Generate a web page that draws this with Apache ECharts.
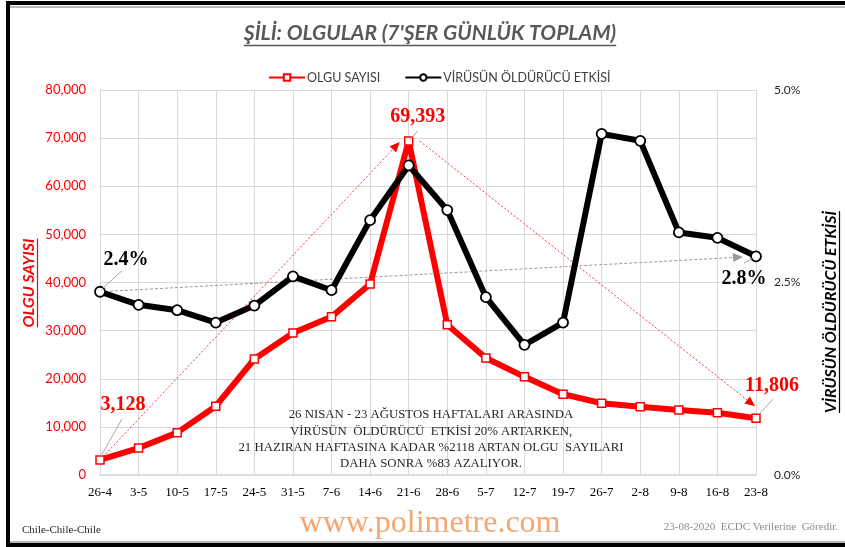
<!DOCTYPE html>
<html>
<head>
<meta charset="utf-8">
<script src="https://cdn.jsdelivr.net/npm/echarts@6/dist/echarts.min.js"></script>
<style>html,body{margin:0;padding:0;background:#fff;}#c{width:845px;height:547px;}</style>
</head>
<body>
<div id="c"></div>
<script>
var categories = ['26-4','3-5','10-5','17-5','24-5','31-5','7-6','14-6','21-6','28-6','5-7','12-7','19-7','26-7','2-8','9-8','16-8','23-8'];
var cases = [3128, 5600, 8800, 14300, 24100, 29500, 32900, 39700, 69393, 31200, 24300, 20400, 16800, 14900, 14200, 13500, 12950, 11806];
var lethality = [2.38, 2.21, 2.14, 1.98, 2.20, 2.58, 2.40, 3.31, 4.02, 3.44, 2.31, 1.69, 1.98, 4.43, 4.34, 3.15, 3.08, 2.84];
var leftTicks = [0, 80000, 10000];
var rightTicks = [0, 5, 2.5];
var titleText = "ŞİLİ: OLGULAR (7'ŞER GÜNLÜK TOPLAM)";
var seriesNames = ['OLGU SAYISI', 'VİRÜSÜN ÖLDÜRÜCÜ ETKİSİ'];
var leftAxisName = 'OLGU SAYISI';
var rightAxisName = 'VİRÜSÜN ÖLDÜRÜCÜ ETKİSİ';
var noteLines = ['26 NISAN - 23 AĞUSTOS HAFTALARI ARASINDA', 'VİRÜSÜN  ÖLDÜRÜCÜ  ETKİSİ 20% ARTARKEN,', '21 HAZIRAN HAFTASINA KADAR %2118 ARTAN OLGU  SAYILARI', 'DAHA SONRA %83 AZALIYOR.'];
var footLeft = 'Chile-Chile-Chile';
var footMid = 'www.polimetre.com';
var footRight = '23-08-2020  ECDC Verilerine  Göredir.';

var chart = echarts.init(document.getElementById('c'), null, {renderer: 'canvas'});

function fmtNum(v){ return v.toString().replace(/\B(?=(\d{3})+(?!\d))/g, ','); }
function measure(text, font){
  var cv = document.createElement('canvas').getContext('2d');
  cv.font = font; return cv.measureText(text).width;
}

var option = {
  animation: false,
  backgroundColor: '#fff',
  grid: {left: 100, right: 89, top: 90, bottom: 72, containLabel: false},
  legend: {
    top: 66, left: 263, itemWidth: 36, itemHeight: 8, itemGap: 24,
    textStyle: {fontFamily: 'Lato', fontSize: 12.5, color: '#404040', padding: [0,0,0,-3]},
    data: seriesNames
  },
  xAxis: {
    type: 'category', data: categories, boundaryGap: false,
    axisLine: {lineStyle: {color: '#d9d9d9', width: 1.5}},
    axisTick: {show: false},
    axisLabel: {color: '#000', fontFamily: 'Liberation Serif', fontSize: 13, margin: 11},
    splitLine: {show: true, lineStyle: {color: '#d9d9d9', width: 1}}
  },
  yAxis: [{
    type: 'value', min: leftTicks[0], max: leftTicks[1], interval: leftTicks[2],
    axisLine: {show: false}, axisTick: {show: false},
    axisLabel: {color: '#FF0000', fontFamily: 'Lato', fontSize: 13, margin: 14, formatter: function(v){return fmtNum(v);}},
    splitLine: {show: true, lineStyle: {color: '#d9d9d9', width: 1}}
  }, {
    type: 'value', min: rightTicks[0], max: rightTicks[1], interval: rightTicks[2],
    axisLine: {show: false}, axisTick: {show: false},
    axisLabel: {color: '#262626', fontFamily: 'Lato', fontSize: 12, margin: 18, formatter: function(v){return v.toFixed(1) + '%';}},
    splitLine: {show: false}
  }],
  series: [{
    name: seriesNames[0], type: 'line', data: cases, yAxisIndex: 0,
    symbol: 'rect', symbolSize: 8, showAllSymbol: true, z: 3,
    lineStyle: {color: '#FF0000', width: 6},
    itemStyle: {color: '#fff', borderColor: '#FF0000', borderWidth: 1.5}
  }, {
    name: seriesNames[1], type: 'line', data: lethality, yAxisIndex: 1,
    symbol: 'circle', symbolSize: 10, showAllSymbol: true, z: 4,
    lineStyle: {color: '#000', width: 6},
    itemStyle: {color: '#fff', borderColor: '#000', borderWidth: 1.8}
  }]
};
chart.setOption(option);

function px(axisIdx, i, v){ return chart.convertToPixel({xAxisIndex: 0, yAxisIndex: axisIdx}, [i, v]); }
function shorten(a, b, d){
  var dx = b[0]-a[0], dy = b[1]-a[1], L = Math.sqrt(dx*dx+dy*dy);
  return [b[0]-dx/L*d, b[1]-dy/L*d];
}
function arrow(a, tip, color, dash, lw){
  var dx = tip[0]-a[0], dy = tip[1]-a[1], L = Math.sqrt(dx*dx+dy*dy);
  var ux = dx/L, uy = dy/L, hl = 10, hw = 4.5;
  var base = [tip[0]-ux*hl, tip[1]-uy*hl];
  return [{
    type: 'line', z: 1, shape: {x1: a[0], y1: a[1], x2: base[0], y2: base[1]},
    style: {stroke: color, lineWidth: lw, lineDash: dash}
  }, {
    type: 'polygon', z: 1, shape: {points: [tip, [base[0]-uy*hw, base[1]+ux*hw], [base[0]+uy*hw, base[1]-ux*hw]]},
    style: {fill: color}
  }];
}
function txt(x, y, text, font, color, align, extra){
  var o = {type: 'text', x: x, y: y, z: 100, style: {text: text, font: font, fill: color, align: align || 'center', verticalAlign: 'middle'}};
  if (extra) for (var k in extra) o[k] = extra[k];
  return o;
}
function lead(a, b){
  return {type: 'line', z: 5, shape: {x1: a[0], y1: a[1], x2: b[0], y2: b[1]}, style: {stroke: '#a6a6a6', lineWidth: 1}};
}

var last = categories.length - 1;
var peak = cases.indexOf(Math.max.apply(null, cases));
var r0 = px(0, 0, cases[0]), rP = px(0, peak, cases[peak]), rL = px(0, last, cases[last]);
var b0 = px(1, 0, lethality[0]), bL = px(1, last, lethality[last]);

var g = [];
// frame
g.push({type: 'rect', z: 0, shape: {x: 8, y: 3, width: 860, height: 542}, style: {fill: null, stroke: '#000', lineWidth: 4}});
g.push({type: 'line', z: 0, shape: {x1: 10, y1: 7, x2: 845, y2: 7}, style: {stroke: '#a0a0a0', lineWidth: 1.5}});
g.push({type: 'line', z: 0, shape: {x1: 10, y1: 542, x2: 845, y2: 542}, style: {stroke: '#a0a0a0', lineWidth: 1.5}});

// title
var tFont = 'italic bold 21px Lato';
var tw = measure(titleText, tFont);
g.push(txt(430, 33, titleText, tFont, '#595959'));
g.push({type: 'line', z: 100, shape: {x1: 430 - tw/2, y1: 45.5, x2: 430 + tw/2, y2: 45.5}, style: {stroke: '#595959', lineWidth: 1.5}});

// axis names
var aFont = 'italic bold 16px Lato';
var lw1 = measure(leftAxisName, aFont);
g.push(txt(29, 283, leftAxisName, aFont, '#FF0000', 'center', {rotation: Math.PI/2}));
g.push({type: 'line', z: 100, shape: {x1: 37.5, y1: 283 - lw1/2, x2: 37.5, y2: 283 + lw1/2}, style: {stroke: '#FF0000', lineWidth: 1.2}});
var lw2 = measure(rightAxisName, aFont);
g.push(txt(831, 312, rightAxisName, aFont, '#000', 'center', {rotation: Math.PI/2}));
g.push({type: 'line', z: 100, shape: {x1: 839.5, y1: 312 - lw2/2, x2: 839.5, y2: 312 + lw2/2}, style: {stroke: '#000', lineWidth: 1.2}});

// arrows
g = g.concat(arrow(r0, [rP[0]-9, rP[1]+1], '#FF0000', [2, 2], 0.8));
g = g.concat(arrow([rP[0]+11, rP[1]], [rL[0]-1, rL[1]-12], '#FF0000', [2, 2], 0.8));
g = g.concat(arrow(b0, shorten(b0, bL, 13), '#999999', [3, 2], 1));

// value labels
var vFont = 'bold 20px "Liberation Serif"';
g.push(lead([r0[0], r0[1]-2], [r0[0]+22, r0[1]-41]));
g.push(txt(r0[0]+23, r0[1]-55, fmtNum(cases[0]), vFont, '#FF0000'));
g.push(lead([rP[0]+1, rP[1]-1], [rP[0]+9, rP[1]-10]));
g.push(txt(rP[0]+9, rP[1]-24, fmtNum(cases[peak]), vFont, '#FF0000'));
g.push(lead([rL[0]+3, rL[1]-4], [rL[0]+17, rL[1]-19]));
g.push(txt(rL[0]+16, rL[1]-32, fmtNum(cases[last]), vFont, '#FF0000'));
g.push(lead([b0[0]+1, b0[1]-2], [b0[0]+22, b0[1]-21]));
g.push(txt(b0[0]+26, b0[1]-32, lethality[0].toFixed(1) + '%', vFont, '#000'));
g.push(lead([bL[0]-4, bL[1]+2], [bL[0]-12, bL[1]+7]));
g.push(txt(bL[0]-12, bL[1]+23, lethality[last].toFixed(1) + '%', vFont, '#000'));

// note
var nFont = '12.8px "Liberation Serif"';
for (var i = 0; i < noteLines.length; i++) g.push(txt(431, 415 + i*16.3, noteLines[i], nFont, '#262626'));

// footer
g.push(txt(22, 530, footLeft, '11px "Liberation Serif"', '#262626', 'left'));
g.push(txt(430, 524, footMid, '32px "Liberation Serif"', '#F6A672'));
g.push(txt(838, 527, footRight, '11px "Liberation Serif"', '#8c8c8c', 'right'));

chart.setOption({graphic: g});
</script>
</body>
</html>
